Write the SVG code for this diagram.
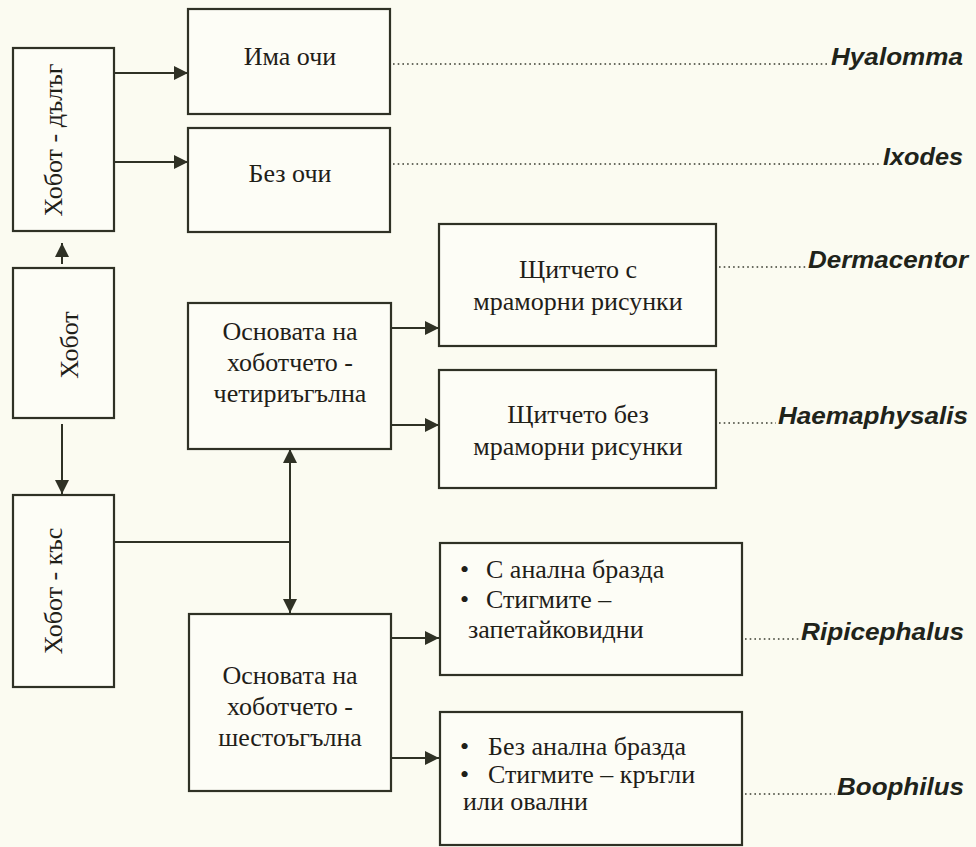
<svg xmlns="http://www.w3.org/2000/svg" width="976" height="847" viewBox="0 0 976 847">
<style>
.bg{fill:#fbfbf1}
.box{fill:#fdfdf6;stroke:#2f3125;stroke-width:2.2}
.t{font-family:"Liberation Serif","Times New Roman",serif;font-size:26px;fill:#1f2018}
.c{text-anchor:middle}
.lbl{font-family:"Liberation Sans",Arial,sans-serif;font-size:24px;font-weight:bold;font-style:italic;fill:#20231a}
.ln{fill:none;stroke:#2f3125;stroke-width:2}
.dot{fill:none;stroke:#3a3c30;stroke-width:1.6;stroke-dasharray:1.6 3.1}
</style>
<defs>
<marker id="ah" viewBox="0 0 14 14" refX="14" refY="7" markerWidth="14" markerHeight="14" markerUnits="userSpaceOnUse" orient="auto-start-reverse">
<path d="M0,0 L14,7 L0,14 z" fill="#2f3125"/>
</marker>
</defs>
<rect class="bg" x="0" y="0" width="976" height="847"/>

<g id="connectors">
<line class="ln" x1="114" y1="73" x2="188" y2="73" marker-end="url(#ah)"/>
<line class="ln" x1="114" y1="162" x2="188" y2="162" marker-end="url(#ah)"/>
<line class="ln" x1="62" y1="264" x2="62" y2="243" marker-end="url(#ah)"/>
<line class="ln" x1="62" y1="424" x2="62" y2="494" marker-end="url(#ah)"/>
<line class="ln" x1="114" y1="542" x2="290" y2="542"/>
<line class="ln" x1="290" y1="449" x2="290" y2="613" marker-start="url(#ah)" marker-end="url(#ah)"/>
<line class="ln" x1="391" y1="328" x2="439" y2="328" marker-end="url(#ah)"/>
<line class="ln" x1="391" y1="425" x2="439" y2="425" marker-end="url(#ah)"/>
<line class="ln" x1="391" y1="638" x2="439" y2="638" marker-end="url(#ah)"/>
<line class="ln" x1="391" y1="758" x2="439" y2="758" marker-end="url(#ah)"/>
<line class="dot" x1="393" y1="64" x2="829" y2="64"/>
<line class="dot" x1="393" y1="164" x2="881" y2="164"/>
<line class="dot" x1="719" y1="267" x2="806" y2="267"/>
<line class="dot" x1="719" y1="423" x2="776" y2="423"/>
<line class="dot" x1="745" y1="639" x2="799" y2="639"/>
<line class="dot" x1="745" y1="794" x2="835" y2="794"/>
</g>

<g id="hobot-dalag">
<rect class="box" x="13" y="48" width="101" height="183"/>
<text class="t c" transform="translate(62,140) rotate(-90)">Хобот - дълъг</text>
</g>
<g id="hobot">
<rect class="box" x="13" y="268" width="101" height="150"/>
<text class="t c" transform="translate(78,345) rotate(-90)">Хобот</text>
</g>
<g id="hobot-kas">
<rect class="box" x="13" y="495" width="101" height="192"/>
<text class="t c" transform="translate(62,591) rotate(-90)">Хобот - къс</text>
</g>

<g id="ima-ochi">
<rect class="box" x="188" y="9" width="202" height="105"/>
<text class="t c" x="290" y="65">Има очи</text>
</g>
<g id="bez-ochi">
<rect class="box" x="188" y="128" width="202" height="104"/>
<text class="t c" x="290" y="182">Без очи</text>
</g>

<g id="chetiriagalna">
<rect class="box" x="188" y="303" width="203" height="146"/>
<text class="t c" x="290" y="340">Основата на</text>
<text class="t c" x="290" y="371">хоботчето -</text>
<text class="t c" x="290" y="402">четириъгълна</text>
</g>
<g id="shestoagalna">
<rect class="box" x="189" y="614" width="202" height="177"/>
<text class="t c" x="290" y="684">Основата на</text>
<text class="t c" x="290" y="715">хоботчето -</text>
<text class="t c" x="290" y="746">шестоъгълна</text>
</g>

<g id="shtitcheto-s">
<rect class="box" x="439" y="224" width="277" height="122"/>
<text class="t c" x="578" y="278">Щитчето с</text>
<text class="t c" x="578" y="310">мраморни рисунки</text>
</g>
<g id="shtitcheto-bez">
<rect class="box" x="439" y="370" width="277" height="118"/>
<text class="t c" x="578" y="423">Щитчето без</text>
<text class="t c" x="578" y="455">мраморни рисунки</text>
</g>

<g id="s-analna">
<rect class="box" x="440" y="543" width="302" height="132"/>
<text class="t" y="578"><tspan x="460">•</tspan><tspan x="486">С анална бразда</tspan></text>
<text class="t" y="608"><tspan x="460">•</tspan><tspan x="486">Стигмите –</tspan></text>
<text class="t" x="468" y="638">запетайковидни</text>
</g>
<g id="bez-analna">
<rect class="box" x="440" y="712" width="302" height="133"/>
<text class="t" y="755"><tspan x="460">•</tspan><tspan x="488">Без анална бразда</tspan></text>
<text class="t" y="783"><tspan x="460">•</tspan><tspan x="488">Стигмите – кръгли</tspan></text>
<text class="t" x="463" y="810">или овални</text>
</g>

<g id="labels">
<text class="lbl" x="831" y="65" textLength="132" lengthAdjust="spacingAndGlyphs">Hyalomma</text>
<text class="lbl" x="883" y="165" textLength="80" lengthAdjust="spacingAndGlyphs">Ixodes</text>
<text class="lbl" x="808" y="268" textLength="160" lengthAdjust="spacingAndGlyphs">Dermacentor</text>
<text class="lbl" x="778" y="424" textLength="190" lengthAdjust="spacingAndGlyphs">Haemaphysalis</text>
<text class="lbl" x="801" y="640" textLength="163" lengthAdjust="spacingAndGlyphs">Ripicephalus</text>
<text class="lbl" x="837" y="795" textLength="127" lengthAdjust="spacingAndGlyphs">Boophilus</text>
</g>
</svg>
